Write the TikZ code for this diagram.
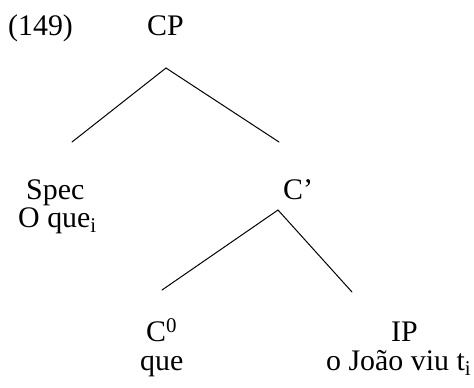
\documentclass[tikz,border=0pt]{standalone}
\usepackage{fontspec}
\setmainfont{Liberation Serif}
\begin{document}
\begin{tikzpicture}[x=1bp,y=-1bp,
  lbl/.style={anchor=base west, inner sep=0pt, font=\fontsize{30}{32}\selectfont},
  br/.style={line width=1pt, line cap=round}]
\useasboundingbox (0,0) rectangle (474,387);
\node[lbl] (ex) at (8,35) {(149)};
\node[lbl] (cp) at (147,35) {CP};
\node[lbl] (spec) at (26,199) {Spec};
\node[lbl] (oque) at (18,227) {O que\textsubscript{i}};
\node[lbl] (cbar) at (283,199) {C'};
\node[lbl] (czero) at (146,341) {C\textsuperscript{0}};
\node[lbl] (ip) at (391,341) {IP};
\node[lbl] (que) at (140,370) {que};
\node[lbl] (joao) at (326,370) {o João viu t\textsubscript{i}};
% branch points
\coordinate (cpb) at (166,68);
\coordinate (spect) at (72,142);
\coordinate (cbart) at (279,142);
\coordinate (cbarb) at (278,210);
\coordinate (czerot) at (162,290);
\coordinate (ipt) at (352,292);
\draw[br] (cpb) -- (spect);
\draw[br] (cpb) -- (cbart);
\draw[br] (cbarb) -- (czerot);
\draw[br] (cbarb) -- (ipt);
\end{tikzpicture}
\end{document}
